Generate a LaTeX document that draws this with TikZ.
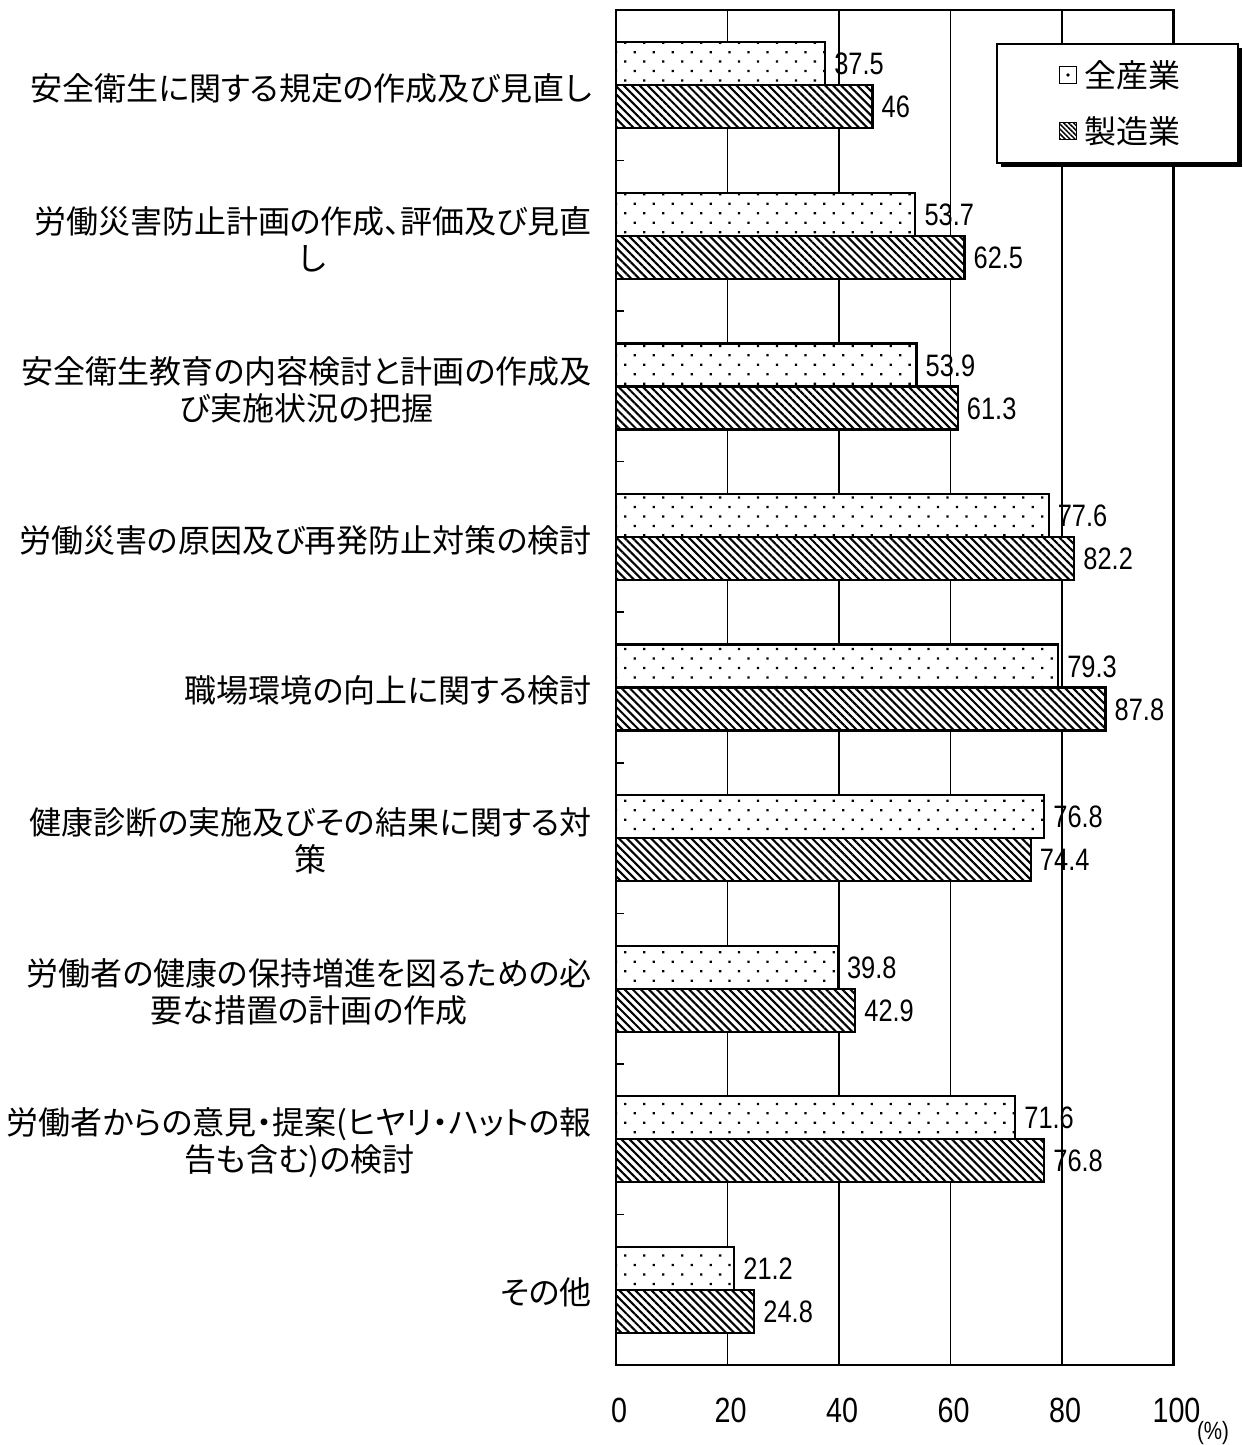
\documentclass[tikz,border=0pt]{standalone}
\usepackage{fontspec}
\setmainfont[RawFeature=+palt]{Noto Sans CJK JP}
\newfontfamily\numfont[FakeStretch=0.82]{Liberation Sans}
\usetikzlibrary{patterns.meta}

\def\xz{616}   % x of 0%
\def\xs{5.575} % px per %

\tikzset{
  dotbar/.style={draw=black, line width=2.2pt,
    pattern={Dots[angle=45, distance=13.4pt, radius=1.6pt]}},
  hatchbar/.style={draw=black, line width=2.2pt,
    pattern={Lines[angle=-45, distance=5.7pt, line width=2.1pt]}},
  catlabel/.style={anchor=east, align=center, inner sep=0pt,
    font=\fontsize{32}{37}\selectfont},
  vallabel/.style={anchor=west, inner sep=0pt,
    font=\numfont\fontsize{31}{34}\selectfont},
  ticklabel/.style={anchor=center, inner sep=0pt,
    font=\numfont\fontsize{35}{38}\selectfont},
  legtext/.style={anchor=west, inner sep=0pt,
    font=\fontsize{32}{36}\selectfont},
}

\begin{document}
\begin{tikzpicture}[x=1pt, y=-1pt]
    \useasboundingbox[fill=white] (0,0) rectangle (1242,1445);

    % grid and frame
    \foreach \v in {20,40,60,80}
        \draw[line width=1.5pt] ({\xz+\v*\xs},10) -- ({\xz+\v*\xs},1365);
    \foreach \k in {1,...,8}
        \draw[line width=1.5pt] (\xz,{10+150.56*\k}) -- (\xz+8,{10+150.56*\k});
    \draw[line width=2.5pt] (\xz,10) rectangle ({\xz+100*\xs},1365);

    % bars
    \foreach \k/\a/\b/\txt in {
        0/37.5/46/{安全衛生に関する規定の作成及び見直し},
        1/53.7/62.5/{労働災害防止計画の作成、評価及び見直\\し},
        2/53.9/61.3/{安全衛生教育の内容検討と計画の作成及\\び実施状況の把握},
        3/77.6/82.2/{労働災害の原因及び再発防止対策の検討},
        4/79.3/87.8/{職場環境の向上に関する検討},
        5/76.8/74.4/{健康診断の実施及びその結果に関する対\\策},
        6/39.8/42.9/{労働者の健康の保持増進を図るための必\\要な措置の計画の作成},
        7/71.6/76.8/{労働者からの意見・提案(ヒヤリ・ハットの報\\告も含む)の検討},
        8/21.2/24.8/{その他}}
    {
        \pgfmathsetmacro{\yc}{10+150.56*(\k+0.5)}
        \fill[white] (\xz,\yc-43) rectangle ({\xz+\a*\xs},\yc);
        \fill[white] (\xz,\yc) rectangle ({\xz+\b*\xs},\yc+43);
        \draw[dotbar] (\xz,\yc-43) rectangle ({\xz+\a*\xs},\yc);
        \draw[hatchbar] (\xz,\yc) rectangle ({\xz+\b*\xs},\yc+43);
        \node[vallabel] (all\k) at ({\xz+\a*\xs+9},\yc-21) {\a};
        \node[vallabel] (mfg\k) at ({\xz+\b*\xs+9},\yc+22) {\b};
        \node[catlabel] (cat\k) at (592,\yc+3) {\txt};
    }

    % axis labels
    \foreach \v in {0,20,...,100}
        \node[ticklabel] (x\v) at ({\xz+\v*\xs+3},1410) {\v};
    \node[anchor=center, inner sep=0pt, font=\numfont\fontsize{25}{28}\selectfont]
        (pct) at (1213,1433) {(\%)};

    % legend
    \fill[black] (1001,48) rectangle (1242,167);
    \draw[line width=2pt, fill=white] (997,44) rectangle (1238,163);
    \node[draw=black, line width=1.8pt, fill=white, minimum size=17pt, inner sep=0pt]
        (keyall) at (1068,75) {};
    \fill (keyall.center) circle (1.8pt);
    \node[draw=black, line width=1.8pt, minimum size=17pt, inner sep=0pt,
        pattern={Lines[angle=-45, distance=3.5pt, line width=1.5pt]}]
        (keymfg) at (1068,131) {};
    \node[legtext] (legall) at (1084,75) {全産業};
    \node[legtext] (legmfg) at (1084,131) {製造業};
\end{tikzpicture}
\end{document}
